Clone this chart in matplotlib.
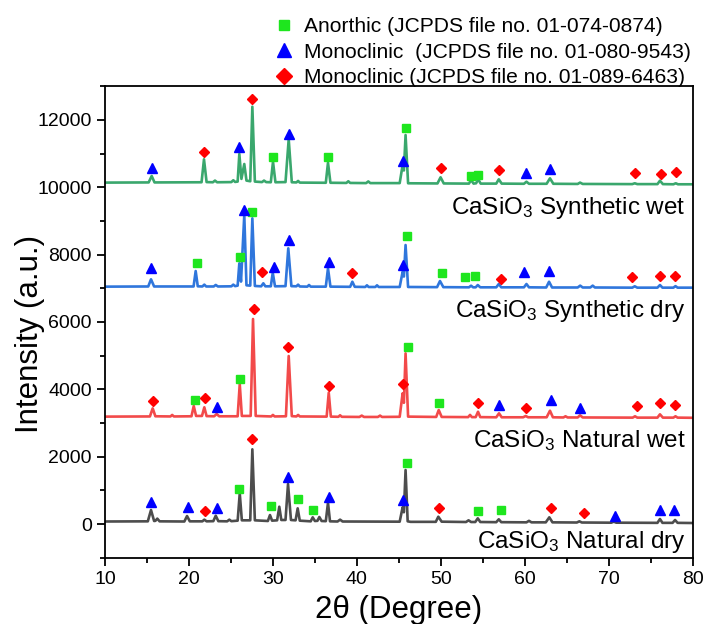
import numpy as np
import matplotlib
matplotlib.use('Agg')
import matplotlib.pyplot as plt
from matplotlib.lines import Line2D
from matplotlib.ticker import MultipleLocator

plt.rcParams['font.family'] = ['Liberation Sans', 'DejaVu Sans']
plt.rcParams['mathtext.fontset'] = 'custom'
plt.rcParams['mathtext.rm'] = 'Liberation Sans'
plt.rcParams['mathtext.default'] = 'regular'

# XRD traces: (2theta, intensity) vertices
nat_dry = [
    (10, 75), (15.1, 80), (15.48, 416), (15.85, 90), (16.0, 95), (16.23, 160), (16.5, 80),
    (19.45, 75), (19.77, 238), (20.1, 80),
    (21.6, 80), (21.83, 130), (22.1, 80),
    (22.9, 85), (23.19, 247), (23.5, 85),
    (24.55, 80), (24.81, 130), (25.05, 85),
    (25.8, 100), (26.05, 912), (26.3, 110),
    (27.3, 110), (27.55, 2219), (27.85, 110),
    (29.4, 90), (29.65, 267), (29.9, 100),
    (30.5, 110), (30.76, 514), (31.0, 120),
    (31.5, 120), (31.8, 1188), (32.15, 120),
    (32.7, 110), (32.95, 466), (33.2, 100),
    (34.5, 80), (34.74, 199), (35.0, 90), (35.3, 95), (35.53, 208), (35.8, 90),
    (36.3, 85), (36.56, 633), (36.8, 80),
    (37.7, 75), (38.0, 130), (38.3, 75),
    (45.1, 70), (45.45, 496), (45.6, 350), (45.8, 1604), (46.05, 80), (46.4, 65),
    (49.4, 65), (49.7, 217), (50.1, 70),
    (53.0, 60), (53.3, 110), (53.6, 60),
    (54.1, 60), (54.4, 169), (54.7, 60),
    (56.6, 55), (56.9, 140), (57.2, 55),
    (60.2, 50), (60.5, 95), (60.8, 50),
    (62.5, 50), (62.92, 199), (63.3, 50),
    (66.2, 45), (66.5, 80), (66.8, 45),
    (70.3, 40), (70.6, 70), (70.9, 40),
    (75.8, 35), (76.1, 149), (76.4, 35),
    (77.6, 35), (77.9, 119), (78.2, 35),
    (80, 30)]

nat_wet = [
    (10, 3190), (15.35, 3195), (15.68, 3436), (16.0, 3200),
    (17.8, 3195), (18.0, 3240), (18.2, 3195),
    (20.3, 3200), (20.57, 3505), (20.85, 3210),
    (21.55, 3210), (21.83, 3466), (22.1, 3205),
    (23.0, 3200), (23.3, 3267), (23.6, 3200),
    (25.8, 3200), (26.05, 4158), (26.3, 3210),
    (27.35, 3210), (27.63, 6089), (27.95, 3210),
    (29.8, 3195), (30.0, 3240), (30.2, 3195),
    (31.55, 3200), (31.88, 4990), (32.25, 3205),
    (32.8, 3195), (33.0, 3240), (33.2, 3195),
    (36.4, 3190), (36.65, 3900), (36.9, 3190),
    (37.8, 3185), (38.0, 3230), (38.2, 3185),
    (40.3, 3180), (40.58, 3220), (40.85, 3180),
    (42.5, 3180), (42.76, 3220), (43.0, 3180),
    (45.1, 3185), (45.45, 3882), (45.6, 3600), (45.8, 5069), (46.1, 3190),
    (49.45, 3180), (49.75, 3386), (50.1, 3180),
    (53.25, 3175), (53.48, 3240), (53.7, 3175),
    (54.15, 3175), (54.43, 3335), (54.7, 3175),
    (56.6, 3170), (56.93, 3288), (57.25, 3170),
    (59.8, 3170), (60.11, 3208), (60.4, 3170),
    (62.6, 3170), (63.0, 3365), (63.35, 3170),
    (64.6, 3165), (64.85, 3200), (65.1, 3165),
    (66.3, 3165), (66.58, 3228), (66.9, 3165),
    (72.85, 3160), (73.13, 3200), (73.4, 3160),
    (75.8, 3160), (76.1, 3258), (76.45, 3160),
    (77.7, 3160), (77.95, 3200), (78.2, 3160),
    (80, 3155)]

syn_dry = [
    (10, 7050), (15.15, 7055), (15.48, 7268), (15.85, 7055),
    (20.55, 7055), (20.8, 7514), (21.05, 7060),
    (21.6, 7055), (21.83, 7110), (22.05, 7055),
    (22.95, 7055), (23.19, 7100), (23.45, 7055),
    (25.05, 7060), (25.28, 7110), (25.5, 7065),
    (25.8, 7080), (26.0, 7743), (26.2, 7200), (26.59, 9177), (26.85, 7090),
    (27.3, 7080), (27.55, 9079), (27.85, 7070),
    (28.6, 7060), (28.86, 7149), (29.1, 7060),
    (29.75, 7060), (29.98, 7464), (30.25, 7060),
    (31.5, 7065), (31.83, 8188), (32.2, 7065),
    (32.8, 7060), (33.0, 7110), (33.2, 7055),
    (34.1, 7050), (34.3, 7100), (34.5, 7050),
    (36.3, 7050), (36.56, 7594), (36.85, 7050),
    (39.2, 7045), (39.46, 7196), (39.75, 7045),
    (41.0, 7040), (41.2, 7090), (41.4, 7040),
    (42.2, 7040), (42.4, 7090), (42.6, 7040),
    (45.1, 7040), (45.45, 7493), (45.6, 7350), (45.8, 8286), (46.1, 7040),
    (49.55, 7035), (49.9, 7217), (50.3, 7035),
    (53.35, 7030), (53.6, 7078), (53.85, 7030),
    (54.15, 7030), (54.4, 7098), (54.7, 7030),
    (56.6, 7030), (56.9, 7128), (57.2, 7030),
    (59.9, 7030), (60.2, 7128), (60.5, 7030),
    (62.55, 7025), (62.89, 7196), (63.25, 7025),
    (66.3, 7025), (66.6, 7080), (66.9, 7025),
    (67.8, 7025), (68.09, 7080), (68.35, 7025),
    (72.8, 7020), (73.1, 7060), (73.4, 7020),
    (75.8, 7020), (76.1, 7098), (76.4, 7020),
    (77.7, 7020), (77.95, 7065), (78.2, 7020),
    (80, 7020)]

syn_wet = [
    (10, 10140), (15.2, 10145), (15.56, 10336), (15.9, 10145),
    (21.5, 10150), (21.79, 10832), (22.1, 10155),
    (22.85, 10150), (23.1, 10200), (23.35, 10150),
    (25.05, 10155), (25.28, 10210), (25.5, 10160),
    (25.8, 10170), (26.0, 10989), (26.25, 10250), (26.59, 10692), (26.85, 10200),
    (27.3, 10180), (27.55, 12394), (27.85, 10170),
    (28.7, 10155), (28.94, 10200), (29.2, 10155),
    (29.75, 10150), (30.01, 10760), (30.3, 10150),
    (31.5, 10155), (31.88, 11426), (32.25, 10150),
    (32.8, 10145), (33.0, 10190), (33.2, 10140),
    (36.3, 10135), (36.56, 10731), (36.85, 10135),
    (38.75, 10130), (38.98, 10180), (39.2, 10130),
    (41.1, 10125), (41.36, 10175), (41.6, 10125),
    (45.1, 10125), (45.45, 10662), (45.6, 10500), (45.8, 11553), (46.1, 10120),
    (49.6, 10115), (49.97, 10297), (50.35, 10115),
    (53.35, 10110), (53.6, 10217), (53.9, 10110), (54.2, 10120), (54.45, 10237), (54.75, 10110),
    (56.6, 10110), (56.9, 10237), (57.25, 10110),
    (59.9, 10105), (60.2, 10166), (60.5, 10105),
    (62.6, 10105), (63.0, 10267), (63.4, 10105),
    (66.3, 10100), (66.58, 10140), (66.9, 10100),
    (72.8, 10095), (73.1, 10120), (73.4, 10095),
    (75.8, 10095), (76.1, 10196), (76.45, 10095),
    (77.7, 10090), (77.98, 10120), (78.25, 10090),
    (80, 10090)]

traces = [
    (nat_dry, '#4d4d4d', 'Natural dry', -720),
    (nat_wet, '#f24a4a', 'Natural wet', 2280),
    (syn_dry, '#2f76dc', 'Synthetic dry', 6160),
    (syn_wet, '#3aa76d', 'Synthetic wet', 9210),
]

# phase markers (2theta, intensity)
anorthic = [
    (30.01, 10900), (36.56, 10891), (45.8, 11752), (53.56, 10336), (54.4, 10357),
    (20.96, 7761), (26.08, 7921), (27.55, 9275), (45.94, 8554), (50.11, 7464),
    (52.92, 7345), (54.11, 7366),
    (20.76, 3683), (26.12, 4307), (46.13, 5257), (49.79, 3585),
    (26.0, 1031), (29.74, 526), (32.99, 734), (34.78, 425), (45.94, 1821),
    (54.43, 395), (57.14, 416)]
mono_9543 = [
    (15.56, 10582), (26.0, 11206), (31.88, 11574), (45.5, 10781), (60.15, 10416),
    (62.97, 10535),
    (15.48, 7594), (26.56, 9326), (30.13, 7642), (31.88, 8435), (36.65, 7772),
    (45.46, 7692), (59.87, 7476), (62.89, 7523),
    (23.3, 3484), (56.93, 3525), (63.09, 3683), (66.58, 3436),
    (15.48, 662), (19.85, 496), (23.3, 484), (31.8, 1405), (36.65, 811),
    (45.46, 704), (70.71, 247), (76.15, 416), (77.78, 416)]
mono_6463 = [
    (21.8, 11057), (27.55, 12623), (49.99, 10564), (56.97, 10514), (73.13, 10434),
    (76.19, 10395), (77.98, 10454),
    (28.74, 7484), (39.46, 7464), (57.14, 7285), (72.81, 7327), (76.07, 7366),
    (77.86, 7357),
    (15.68, 3653), (21.95, 3742), (27.71, 6386), (31.8, 5257), (36.65, 4108),
    (45.46, 4149), (54.43, 3594), (60.11, 3454), (73.37, 3505), (76.15, 3603),
    (77.86, 3525),
    (21.95, 386), (27.51, 2525), (49.79, 466), (63.09, 466), (67.02, 336)]

phases = [
    (anorthic, 's', '#1ee61e', 5.5, 'Anorthic (JCPDS file no. 01-074-0874)'),
    (mono_9543, '^', '#0000ff', 7, 'Monoclinic  (JCPDS file no. 01-080-9543)'),
    (mono_6463, 'D', '#ff0000', 5.5, 'Monoclinic (JCPDS file no. 01-089-6463)'),
]

fig = plt.figure(figsize=(7.05, 6.24), dpi=100)
ax = fig.add_axes([105 / 705, 1 - 557.7 / 624, 587.7 / 705, 471.4 / 624])

for pts, color, name, label_y in traces:
    arr = np.array(pts)
    ax.plot(arr[:, 0], arr[:, 1], color=color, lw=1.9, solid_joinstyle='round')
    ax.text(79.2, label_y, 'CaSiO$_3$ ' + name, ha='right', va='baseline', fontsize=17.5)

handles = []
for pts, marker, color, ms, label in phases:
    arr = np.array(pts)
    ax.plot(arr[:, 0], arr[:, 1], ls='none', marker=marker, color=color,
            ms=ms, mec=color, clip_on=False)
    handles.append(Line2D([], [], ls='none', marker=marker, color=color,
                          mec=color, ms=ms * 1.4, label=label))

fig.legend(handles=handles, loc='upper left', bbox_to_anchor=(274 / 705, 0.972),
           frameon=False, fontsize=15.1, handlelength=1.0, handletextpad=0.45,
           labelspacing=0.3, borderpad=0, borderaxespad=0)

ax.set_xlim(10, 80)
ax.set_ylim(-1000, 13000)
ax.xaxis.set_major_locator(MultipleLocator(10))
ax.xaxis.set_minor_locator(MultipleLocator(5))
ax.yaxis.set_major_locator(MultipleLocator(2000))
ax.yaxis.set_minor_locator(MultipleLocator(1000))
ax.tick_params(which='major', direction='out', length=6, width=1.3, labelsize=14)
ax.tick_params(which='minor', direction='out', length=3.5, width=1.3)
for sp in ax.spines.values():
    sp.set_linewidth(1.3)

ax.set_xlabel('2θ (Degree)', fontsize=22.5, labelpad=5)
ax.set_ylabel('Intensity (a.u.)', fontsize=22.5)
ax.yaxis.set_label_coords(-60 / 587.7, 0.475)

fig.savefig('out.png', dpi=100)
